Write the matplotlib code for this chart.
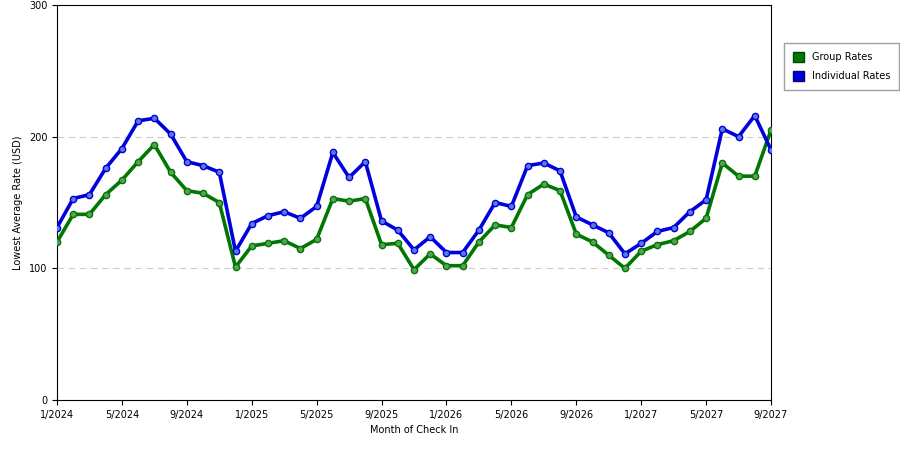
import matplotlib
matplotlib.use("Agg")
import matplotlib.pyplot as plt
from matplotlib.patches import Patch

months = list(range(45))
tick_labels = ["1/2024", "5/2024", "9/2024", "1/2025", "5/2025", "9/2025",
               "1/2026", "5/2026", "9/2026", "1/2027", "5/2027", "9/2027"]
individual = [131, 153, 156, 176, 191, 212, 214, 202, 181, 178, 173, 113,
              134, 140, 143, 138, 147, 188, 169, 181, 136, 129, 114, 124,
              112, 112, 129, 150, 147, 178, 180, 174, 139, 133, 127, 111,
              119, 128, 131, 143, 152, 206, 200, 216, 190]
group = [120, 141, 141, 156, 167, 181, 194, 173, 159, 157, 150, 101,
         117, 119, 121, 115, 122, 153, 151, 153, 118, 119, 99, 111,
         102, 102, 120, 133, 131, 156, 164, 159, 126, 120, 110, 100,
         113, 118, 121, 128, 138, 180, 170, 170, 205]

fig = plt.figure(figsize=(9, 4.5), dpi=100)
ax = fig.add_axes([57 / 900, 50 / 450, 714 / 900, 395 / 450])

ax.plot(months, group, color="#007700", lw=2.6, marker="o", ms=4.5,
        mfc="#5aa05a", mec="#007700", zorder=3)
ax.plot(months, individual, color="#0000dd", lw=2.6, marker="o", ms=4.5,
        mfc="#5a7ae0", mec="#0000dd", zorder=3)

ax.set_xlim(0, 44)
ax.set_ylim(0, 300)
ax.set_xticks(range(0, 45, 4))
ax.set_xticklabels(tick_labels, fontsize=7)
ax.set_yticks([0, 100, 200, 300])
ax.tick_params(axis="y", labelsize=7)
ax.yaxis.grid(True, ls=(0, (6, 4)), color="#cccccc", lw=0.8)
ax.set_axisbelow(True)
ax.set_xlabel("Month of Check In", fontsize=7)
ax.set_ylabel("Lowest Average Rate (USD)", fontsize=7)

handles = [Patch(facecolor="#007700", edgecolor="#004400", label="Group Rates"),
           Patch(facecolor="#0000dd", edgecolor="#000077", label="Individual Rates")]
fig.legend(handles=handles, loc="upper left", bbox_to_anchor=(779 / 900, 1 - 38 / 450),
           fontsize=7, frameon=True, fancybox=False, edgecolor="#888888",
           handlelength=1.2, handleheight=1.2, borderpad=0.9, labelspacing=0.9)

fig.savefig("out.png", dpi=100)
